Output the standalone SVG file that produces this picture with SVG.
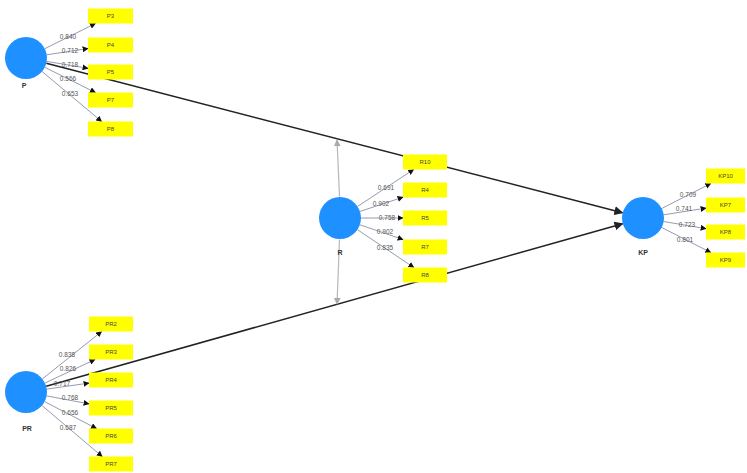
<svg xmlns="http://www.w3.org/2000/svg" width="747" height="473" viewBox="0 0 747 473">
<defs>
<marker id="ah" viewBox="0 0 10 10" refX="9" refY="5" markerWidth="6" markerHeight="6" orient="auto" markerUnits="userSpaceOnUse"><path d="M0,0 L10,5 L0,10 z" fill="#111"/></marker>
<marker id="ahBig" viewBox="0 0 10 10" refX="9" refY="5" markerWidth="9" markerHeight="9" orient="auto" markerUnits="userSpaceOnUse"><path d="M0,0 L10,5 L0,10 z" fill="#222"/></marker>
<marker id="ahGray" viewBox="0 0 10 10" refX="9" refY="5" markerWidth="7" markerHeight="7" orient="auto" markerUnits="userSpaceOnUse"><path d="M0,0 L10,5 L0,10 z" fill="#aaa"/></marker>
</defs>
<style>
.lv{fill:#1e90ff;}
.ind{fill:#ffff00;}
.it{font-family:"Liberation Sans",Arial,sans-serif;font-size:6px;fill:#444;text-anchor:middle;}
.nm{font-family:"Liberation Sans",Arial,sans-serif;font-size:7px;font-weight:bold;fill:#333;text-anchor:middle;}
.ld{font-family:"Liberation Sans",Arial,sans-serif;font-size:6.5px;fill:#555;text-anchor:middle;}
.load{stroke:#8a8fa8;stroke-width:0.9;fill:none;marker-end:url(#ah);}
.path{stroke:#222;stroke-width:1.5;fill:none;marker-end:url(#ahBig);}
.mod{stroke:#b8b8b8;stroke-width:1.2;fill:none;marker-end:url(#ahGray);}
</style>
<rect width="747" height="473" fill="#ffffff"/>

<g id="connectors">
<!-- structural paths -->
<line class="path" x1="46.3" y1="63.3" x2="622.5" y2="212.7"/>
<line class="path" x1="46.2" y1="386.3" x2="622.6" y2="223.7"/>
<!-- moderating effects -->
<line class="mod" x1="339.5" y1="196.5" x2="337" y2="140"/>
<line class="mod" x1="339.5" y1="239.5" x2="337" y2="304"/>
<!-- P loadings -->
<line class="load" x1="44.8" y1="48.7" x2="95.4" y2="23.5"/>
<line class="load" x1="46.8" y1="54.8" x2="88" y2="48.5"/>
<line class="load" x1="46.7" y1="61.4" x2="88" y2="68.3"/>
<line class="load" x1="44.8" y1="67.3" x2="95.4" y2="92.5"/>
<line class="load" x1="42.1" y1="71.5" x2="101.6" y2="121.5"/>
<!-- R loadings -->
<line class="load" x1="357.5" y1="206.5" x2="413.6" y2="169.5"/>
<line class="load" x1="360" y1="211.4" x2="403" y2="197.2"/>
<line class="load" x1="361" y1="218" x2="403" y2="218"/>
<line class="load" x1="360" y1="224.8" x2="403" y2="239.5"/>
<line class="load" x1="357.5" y1="229.7" x2="413.8" y2="267.5"/>
<!-- KP loadings -->
<line class="load" x1="660.7" y1="209" x2="710.8" y2="183.5"/>
<line class="load" x1="663.8" y1="214.8" x2="706" y2="208.1"/>
<line class="load" x1="663.7" y1="221.5" x2="706" y2="228.7"/>
<line class="load" x1="660.7" y1="227" x2="710.8" y2="252.5"/>
<!-- PR loadings -->
<line class="load" x1="42.4" y1="378.9" x2="101.6" y2="331.5"/>
<line class="load" x1="45" y1="383" x2="95" y2="359.5"/>
<line class="load" x1="46.8" y1="389.1" x2="89" y2="383.1"/>
<line class="load" x1="46.7" y1="395.9" x2="89" y2="403.9"/>
<line class="load" x1="44.7" y1="401.7" x2="96.5" y2="428.5"/>
<line class="load" x1="42" y1="405.6" x2="102.2" y2="456.5"/>
<!-- loading values -->
<text class="ld" x="68" y="39">0.840</text>
<text class="ld" x="70" y="53">0.712</text>
<text class="ld" x="70" y="67">0.718</text>
<text class="ld" x="68" y="81">0.566</text>
<text class="ld" x="70" y="96">0.653</text>
<text class="ld" x="386" y="190">0.691</text>
<text class="ld" x="381" y="206">0.902</text>
<text class="ld" x="387" y="220">0.758</text>
<text class="ld" x="385" y="234">0.902</text>
<text class="ld" x="385" y="250">0.835</text>
<text class="ld" x="688" y="197">0.709</text>
<text class="ld" x="684" y="211">0.741</text>
<text class="ld" x="687" y="227">0.723</text>
<text class="ld" x="685" y="242">0.801</text>
<text class="ld" x="67" y="357">0.838</text>
<text class="ld" x="68" y="371">0.826</text>
<text class="ld" x="62" y="386">0.717</text>
<text class="ld" x="70" y="400">0.768</text>
<text class="ld" x="70" y="415">0.656</text>
<text class="ld" x="68" y="430">0.687</text>
</g>

<g id="P">
<circle class="lv" cx="26" cy="58" r="21"/>
<text class="nm" x="24" y="88">P</text>
</g>
<g id="P3"><rect class="ind" x="88" y="8.5" width="45" height="15"/><text class="it" x="110.5" y="18">P3</text></g>
<g id="P4"><rect class="ind" x="88" y="37.5" width="45" height="15"/><text class="it" x="110.5" y="47">P4</text></g>
<g id="P5"><rect class="ind" x="88" y="64.5" width="45" height="15"/><text class="it" x="110.5" y="74">P5</text></g>
<g id="P7"><rect class="ind" x="88" y="92.5" width="45" height="15"/><text class="it" x="110.5" y="102">P7</text></g>
<g id="P8"><rect class="ind" x="88" y="121.5" width="45" height="15"/><text class="it" x="110.5" y="131">P8</text></g>

<g id="R">
<circle class="lv" cx="340" cy="218" r="21"/>
<text class="nm" x="340" y="255">R</text>
</g>
<g id="R10"><rect class="ind" x="403" y="154.5" width="44" height="15"/><text class="it" x="425" y="164">R10</text></g>
<g id="R4"><rect class="ind" x="403" y="182.5" width="44" height="15"/><text class="it" x="425" y="192">R4</text></g>
<g id="R5"><rect class="ind" x="403" y="210.5" width="44" height="15"/><text class="it" x="425" y="220">R5</text></g>
<g id="R7"><rect class="ind" x="403" y="239.5" width="44" height="15"/><text class="it" x="425" y="249">R7</text></g>
<g id="R8"><rect class="ind" x="403" y="267.5" width="44" height="15"/><text class="it" x="425" y="277">R8</text></g>

<g id="KP">
<circle class="lv" cx="643" cy="218" r="21"/>
<text class="nm" x="643" y="255">KP</text>
</g>
<g id="KP10"><rect class="ind" x="706" y="168.5" width="39" height="15"/><text class="it" x="725.5" y="178">KP10</text></g>
<g id="KP7"><rect class="ind" x="706" y="197.5" width="39" height="15"/><text class="it" x="725.5" y="207">KP7</text></g>
<g id="KP8"><rect class="ind" x="706" y="224.5" width="39" height="15"/><text class="it" x="725.5" y="234">KP8</text></g>
<g id="KP9"><rect class="ind" x="706" y="252.5" width="39" height="15"/><text class="it" x="725.5" y="262">KP9</text></g>

<g id="PR">
<circle class="lv" cx="26" cy="392" r="21"/>
<text class="nm" x="27" y="431">PR</text>
</g>
<g id="PR2"><rect class="ind" x="89" y="316.5" width="44" height="15"/><text class="it" x="111" y="326">PR2</text></g>
<g id="PR3"><rect class="ind" x="89" y="344.5" width="44" height="15"/><text class="it" x="111" y="354">PR3</text></g>
<g id="PR4"><rect class="ind" x="89" y="372.5" width="44" height="15"/><text class="it" x="111" y="382">PR4</text></g>
<g id="PR5"><rect class="ind" x="89" y="400.5" width="44" height="15"/><text class="it" x="111" y="410">PR5</text></g>
<g id="PR6"><rect class="ind" x="89" y="428.5" width="44" height="15"/><text class="it" x="111" y="438">PR6</text></g>
<g id="PR7"><rect class="ind" x="89" y="456.5" width="44" height="15"/><text class="it" x="111" y="466">PR7</text></g>
</svg>
